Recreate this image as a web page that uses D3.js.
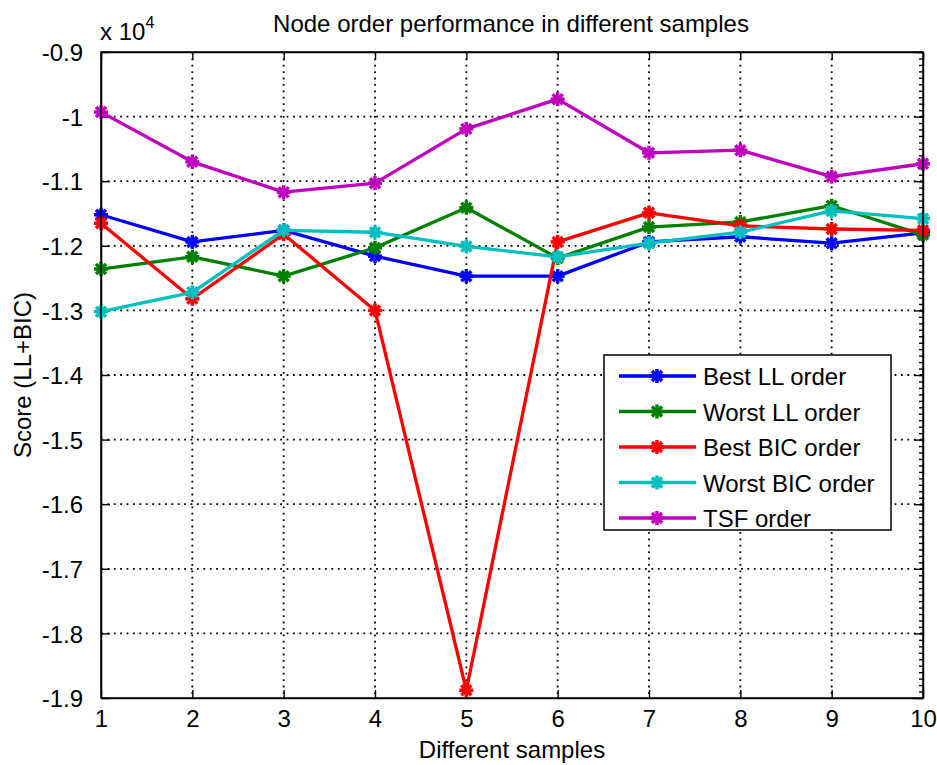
<!DOCTYPE html>
<html>
<head>
<meta charset="utf-8">
<script src="https://cdn.jsdelivr.net/npm/d3@7"></script>
<style>
  body { margin: 0; background: #fff; }
  text { font-family: "Liberation Sans", Arial, sans-serif; fill: #000; }
</style>
</head>
<body>
<svg id="chart" width="937" height="765"></svg>
<script>
// samples on the x axis
var samples = [1, 2, 3, 4, 5, 6, 7, 8, 9, 10];
var yTicks = [-19000, -18000, -17000, -16000, -15000, -14000, -13000, -12000, -11000, -10000, -9000];

// scores per ordering (LL+BIC)
var bestLL   = [-11520, -11940, -11760, -12160, -12470, -12470, -11940, -11860, -11960, -11800];
var worstLL  = [-12360, -12170, -12470, -12030, -11410, -12190, -11710, -11630, -11380, -11830];
var bestBIC  = [-11650, -12820, -11820, -13000, -18880, -11940, -11490, -11690, -11740, -11760];
var worstBIC = [-13020, -12720, -11760, -11790, -12010, -12170, -11960, -11790, -11460, -11580];
var tsf      = [-9930, -10700, -11170, -11030, -10190, -9730, -10560, -10520, -10930, -10730];

var seriesNames  = ["Best LL order", "Worst LL order", "Best BIC order", "Worst BIC order", "TSF order"];
var seriesColors = ["#0000ff", "#008000", "#ff0000", "#00bfbf", "#bf00bf"];
var seriesValues = [bestLL, worstLL, bestBIC, worstBIC, tsf];

var FONT = "24px";
var svg = d3.select("#chart");
// plot box (window.top is reserved, so prefixed names)
var pLeft = 101, pRight = 923, pTop = 52, pBottom = 698;

var x = d3.scaleLinear().domain([1, 10]).range([pLeft, pRight]);
var y = d3.scaleLinear().domain([-19000, -9000]).range([pBottom, pTop]);

// dotted grid
var grid = svg.append("g")
    .attr("stroke", "#000")
    .attr("stroke-width", 1.8)
    .attr("stroke-dasharray", "1.8,4.6");
grid.selectAll(".gx").data(samples.slice(1, -1)).enter().append("line")
    .attr("x1", function(d) { return x(d); }).attr("x2", function(d) { return x(d); })
    .attr("y1", pTop).attr("y2", pBottom);
grid.selectAll(".gy").data(yTicks.slice(1, -1)).enter().append("line")
    .attr("y1", function(d) { return y(d); }).attr("y2", function(d) { return y(d); })
    .attr("x1", pLeft).attr("x2", pRight);

// tick label as matlab shows it, scaled by 10^4
var fmt = function(d) { return String(+(d / 10000).toFixed(1)); };

var xAxis = svg.append("g")
    .attr("transform", "translate(0," + pBottom + ")")
    .call(d3.axisBottom(x).tickValues(samples).tickFormat(d3.format("d")).tickSizeInner(-8).tickSizeOuter(0).tickPadding(12));
var xTop = svg.append("g")
    .attr("transform", "translate(0," + pTop + ")")
    .call(d3.axisTop(x).tickValues(samples).tickFormat("").tickSizeInner(-8).tickSizeOuter(0));
var yAxis = svg.append("g")
    .attr("transform", "translate(" + pLeft + ",0)")
    .call(d3.axisLeft(y).tickValues(yTicks).tickFormat(fmt).tickSizeInner(-9).tickSizeOuter(0).tickPadding(18));
var yRight = svg.append("g")
    .attr("transform", "translate(" + pRight + ",0)")
    .call(d3.axisRight(y).tickValues(yTicks).tickFormat("").tickSizeInner(-9).tickSizeOuter(0));
// the minor ticks on the right edge
svg.append("g")
    .attr("transform", "translate(" + pRight + ",0)")
    .call(d3.axisRight(y).tickValues(d3.range(-19000, -8999, 100)).tickFormat("").tickSizeInner(-4).tickSizeOuter(0))
    .select(".domain").remove();

svg.selectAll(".domain").attr("stroke", "#000").attr("stroke-width", 1.5);
svg.selectAll(".tick line").attr("stroke", "#000").attr("stroke-width", 1.4);
svg.selectAll(".tick text")
    .style("font-family", "'Liberation Sans', Arial, sans-serif")
    .style("font-size", FONT)
    .attr("fill", "#000");
yAxis.selectAll(".tick text").attr("dy", "0.36em");

// series lines with asterisk markers
var line = d3.line()
    .x(function(d, i) { return x(samples[i]); })
    .y(function(d) { return y(d); });

function asterisk(g, cx, cy, color) {
    var r = 7, rd = 5;
    var segs = [[-r, 0, r, 0], [0, -r, 0, r], [-rd, -rd, rd, rd], [-rd, rd, rd, -rd]];
    segs.forEach(function(s) {
        g.append("line")
            .attr("x1", cx + s[0]).attr("y1", cy + s[1])
            .attr("x2", cx + s[2]).attr("y2", cy + s[3])
            .attr("stroke", color).attr("stroke-width", 3.5);
    });
    g.append("circle").attr("cx", cx).attr("cy", cy).attr("r", 3.5).attr("fill", color);
}

seriesValues.forEach(function(vals, k) {
    var g = svg.append("g");
    g.append("path")
        .datum(vals)
        .attr("d", line)
        .attr("fill", "none")
        .attr("stroke", seriesColors[k])
        .attr("stroke-width", 3.3)
        .attr("stroke-linejoin", "round");
    vals.forEach(function(v, i) {
        asterisk(g, x(samples[i]), y(v), seriesColors[k]);
    });
});

// redraw axis frame on top
svg.append("rect")
    .attr("x", pLeft).attr("y", pTop)
    .attr("width", pRight - pLeft).attr("height", pBottom - pTop)
    .attr("fill", "none").attr("stroke", "#000").attr("stroke-width", 1.5);

// legend
var lg = svg.append("g");
lg.append("rect")
    .attr("x", 604).attr("y", 355).attr("width", 287).attr("height", 175)
    .attr("fill", "#fff").attr("stroke", "#000").attr("stroke-width", 1.5);
seriesNames.forEach(function(name, k) {
    var cy = 376 + k * 35.5;
    lg.append("line")
        .attr("x1", 619).attr("x2", 696).attr("y1", cy).attr("y2", cy)
        .attr("stroke", seriesColors[k]).attr("stroke-width", 3.3);
    asterisk(lg, 657, cy, seriesColors[k]);
    lg.append("text")
        .attr("x", 703).attr("y", cy + 9)
        .style("font-size", FONT)
        .text(name);
});

// titles
svg.append("text")
    .attr("x", 511).attr("y", 32)
    .attr("text-anchor", "middle")
    .style("font-size", FONT)
    .text("Node order performance in different samples");
svg.append("text")
    .attr("x", 512).attr("y", 758)
    .attr("text-anchor", "middle")
    .style("font-size", FONT)
    .text("Different samples");
svg.append("text")
    .attr("transform", "translate(31,375) rotate(-90)")
    .attr("text-anchor", "middle")
    .style("font-size", FONT)
    .text("Score (LL+BIC)");

// exponent label
var ex = svg.append("text").attr("x", 100).attr("y", 40).style("font-size", FONT);
ex.append("tspan").text("x 10");
ex.append("tspan").attr("dy", -12).style("font-size", "16px").text("4");
</script>
</body>
</html>
